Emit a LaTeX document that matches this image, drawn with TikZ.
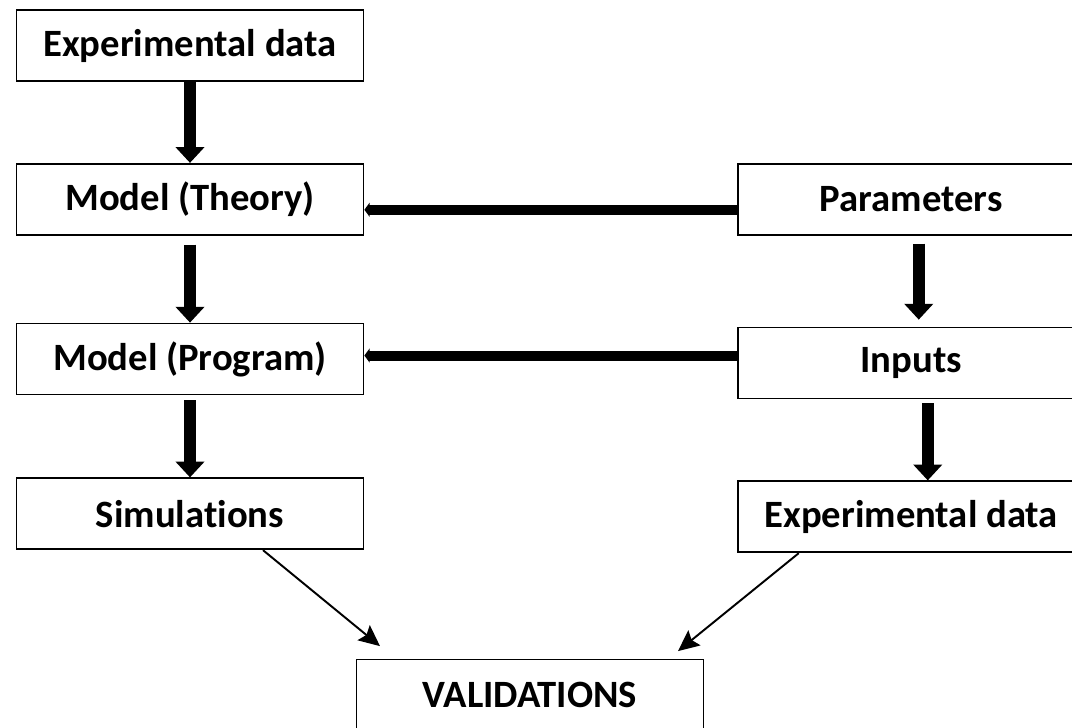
\documentclass[tikz,border=0pt]{standalone}
\usepackage{fontspec}
\setmainfont[Ligatures=NoCommon]{Carlito}
\usetikzlibrary{
	arrows.meta,
	positioning,
	calc
}

\begin{document}
\begin{tikzpicture}[
		every node/.style={
			draw,
			rectangle,
			line width = 1pt,
			minimum width = 6.94cm,
			minimum height = 1.42cm,
			font = \fontsize{22}{26}\selectfont\bfseries,
			align=center
		},
		thickarrow/.style={
			draw,
			line width = 6.8pt,
			-{Triangle[width=16pt, length=9pt]}},
		bararrow/.style={
			draw,
			line width = 5.7pt,
			-{Triangle[width=8pt, length=3pt]}},
		thinarrow/.style={
			draw,
			line width = 1.1pt,
			-{Stealth[width=11pt, length=12pt, inset=2pt]}}
		]
		\useasboundingbox (0,0) rectangle (21.44,-14.54);
		
		\node (expL) at (3.8,-0.91) {Experimental data};
		\node[below = 1.62cm of expL] (theory) {Model (Theory)};
		\node[below = 1.74cm of theory] (program) {Model (Program)};
		\node[below = 1.64cm of program] (sim) {Simulations};
		\node[right = 7.45cm of theory] (params) {Parameters};
		\node[below = 1.82cm of params] (inputs) {Inputs};
		\node[below = 1.62cm of inputs] (expR) {Experimental data};
		\node (valid) at (10.6,-13.9) {VALIDATIONS};
		
		\draw[thickarrow] (expL.south) -- (expL.south |- theory.north);
		\draw[thickarrow, shorten <=0.18cm] (theory.south) -- (theory.south |- program.north);
		\draw[thickarrow, shorten <=0.1cm] (program.south) -- (program.south |- sim.north);
		\draw[thickarrow, shorten <=0.16cm, shorten >=0.14cm] ([xshift=0.15cm]params.south) -- ([xshift=0.15cm]params.south |- inputs.north);
		\draw[thickarrow, shorten <=0.08cm] ([xshift=0.33cm]inputs.south) -- ([xshift=0.33cm]inputs.south |- expR.north);
		
		\draw[bararrow] ([yshift=-0.21cm]params.west) -- ([yshift=-0.21cm]params.west -| theory.east);
		\draw[bararrow] ([yshift=0.15cm]inputs.west) -- ([yshift=0.15cm]inputs.west -| program.east);
		
		\draw[thinarrow] ([xshift=1.46cm]sim.south) -- ([xshift=-3cm, yshift=0.25cm]valid.north);
		\draw[thinarrow] ([xshift=-2.25cm]expR.south) -- ([xshift=2.96cm, yshift=0.15cm]valid.north);
	\end{tikzpicture}
\end{document}
